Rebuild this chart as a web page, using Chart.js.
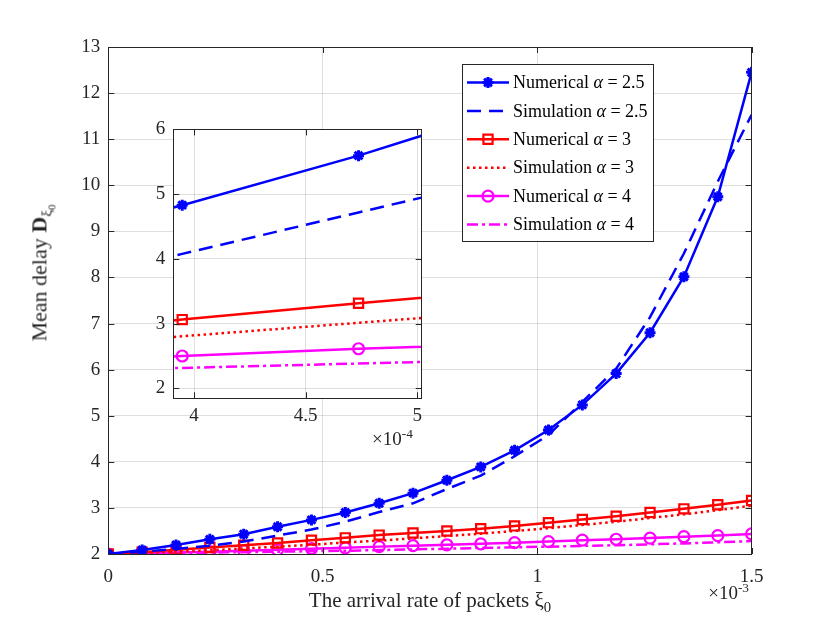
<!DOCTYPE html>
<html><head><meta charset="utf-8">
<script src="https://cdn.jsdelivr.net/npm/chart.js@4/dist/chart.umd.min.js"></script>
<style>
html,body{margin:0;padding:0;background:#fff;}
#wrap{position:relative;width:830px;height:623px;overflow:hidden;font-family:"Liberation Serif","Times New Roman",serif;color:#262626;}
#main{position:absolute;left:0;top:0;}
#inset{position:absolute;left:120px;top:110px;}
.lbl{position:absolute;white-space:nowrap;color:#262626;line-height:1;}
.lbl sub{font-size:70%;vertical-align:-0.35em;line-height:0;}
.lbl sup{font-size:70%;vertical-align:0.55em;line-height:0;}
#xtitle{font-size:21px;left:430px;top:590px;transform:translateX(-50%);}
#ytitle{font-size:22px;left:40px;top:273px;transform:translate(-50%,-50%) rotate(-90deg);}
#xexp{font-size:19px;right:81px;top:583px;}
#iexp{font-size:19px;left:372px;top:429px;}
</style></head><body>
<div id="wrap">
<canvas id="main" width="830" height="623"></canvas>
<canvas id="inset" width="330" height="350"></canvas>
<div class="lbl" id="xtitle">The arrival rate of packets ξ<sub>0</sub></div>
<div class="lbl" id="ytitle">Mean delay <b>D</b><sub>ξ<sub>0</sub></sub></div>
<div class="lbl" id="xexp">×10<sup>-3</sup></div>
<div class="lbl" id="iexp">×10<sup>-4</sup></div>
</div>
<script>
// ---- data (x in units of 1e-3) ----
const xVals   = [0, 0.0789, 0.1579, 0.2368, 0.3158, 0.3947, 0.4737, 0.5526, 0.6316, 0.7105, 0.7895, 0.8684, 0.9474, 1.0263, 1.1053, 1.1842, 1.2632, 1.3421, 1.4211, 1.5];
const numA25  = [2.0, 2.087, 2.195, 2.318, 2.43, 2.59, 2.74, 2.90, 3.10, 3.32, 3.60, 3.89, 4.25, 4.69, 5.235, 5.915, 6.80, 8.015, 9.75, 12.45];
const simA25  = [2.0, 2.05, 2.11, 2.18, 2.27, 2.40, 2.53, 2.70, 2.91, 3.10, 3.41, 3.70, 4.12, 4.58, 5.30, 6.02, 7.14, 8.52, 10.08, 11.53];
const numA3   = [2.0, 2.04, 2.09, 2.14, 2.19, 2.24, 2.30, 2.35, 2.41, 2.455, 2.50, 2.55, 2.61, 2.68, 2.75, 2.82, 2.90, 2.98, 3.07, 3.16];
const simA3   = [2.0, 2.02, 2.05, 2.08, 2.12, 2.16, 2.20, 2.25, 2.29, 2.34, 2.39, 2.44, 2.50, 2.56, 2.63, 2.70, 2.78, 2.86, 2.95, 3.05];
const numA4   = [2.0, 2.015, 2.035, 2.05, 2.07, 2.09, 2.115, 2.135, 2.16, 2.18, 2.20, 2.22, 2.245, 2.27, 2.30, 2.32, 2.345, 2.375, 2.40, 2.435];
const simA4   = [2.0, 2.01, 2.02, 2.03, 2.04, 2.05, 2.06, 2.07, 2.085, 2.10, 2.115, 2.13, 2.145, 2.16, 2.175, 2.19, 2.21, 2.23, 2.255, 2.28];
// inset data (x in units of 1e-4)
const insetX   = [3.158, 3.947, 4.737, 5.526];
const inNumA25 = [4.12, 4.83, 5.595, 6.45];
const inSimA25 = [3.44, 4.078, 4.718, 5.357];
const inNumA3  = [2.83, 3.063, 3.316, 3.55];
const inSimA3  = [2.597, 2.806, 3.014, 3.222];
const inNumA4  = [2.39, 2.501, 2.613, 2.70];
const inSimA4  = [2.25, 2.317, 2.385, 2.452];
// ticks and labels
const mainXTicks  = [0, 0.5, 1, 1.5];
const mainYTicks  = [2, 3, 4, 5, 6, 7, 8, 9, 10, 11, 12, 13];
const insetXTicks = [4, 4.5, 5];
const insetYTicks = [2, 3, 4, 5, 6];
const seriesKinds = ['Numerical', 'Simulation', 'Numerical', 'Simulation', 'Numerical', 'Simulation'];
const alphaVals   = ['2.5', '2.5', '3', '3', '4', '4'];

// ---- styles ----
const BLUE = '#0000ff', RED = '#ff0000', MAG = '#ff00ff';
const LW = 2.5;
const styles = [
  {color: BLUE, dash: [], point: 'star', r: 5.5},
  {color: BLUE, dash: [14, 8], point: false},
  {color: RED, dash: [], point: 'rect', r: 6.5},
  {color: RED, dash: [2.5, 3.5], point: false},
  {color: MAG, dash: [], point: 'circle', r: 5.5},
  {color: MAG, dash: [11, 4, 3, 4], point: false}
];
const AXC = '#262626';
const GRIDC = 'rgba(38,38,38,0.15)';
const FONT = {family: '"Liberation Serif", "Times New Roman", serif', size: 19};

function mkSets(xs, arrs) {
  return arrs.map((arr, i) => {
    const s = styles[i];
    return {
      label: seriesKinds[i] + ' α = ' + alphaVals[i],
      data: xs.map((x, j) => ({x: x, y: arr[j]})),
      borderColor: s.color, backgroundColor: 'rgba(0,0,0,0)',
      borderWidth: LW, borderDash: s.dash, tension: 0,
      pointStyle: s.point || 'circle', pointRadius: s.point ? s.r : 0,
      pointBorderColor: s.color, pointBackgroundColor: s.point === 'star' ? s.color : 'rgba(0,0,0,0)',
      pointBorderWidth: s.point === 'star' ? 3 : 2.2, pointHoverRadius: 0
    };
  });
}

function drawMarker(ctx, style, r, x, y, bw) {
  ctx.save();
  ctx.setLineDash([]);
  ctx.lineWidth = bw;
  ctx.beginPath();
  if (style === 'star') {
    for (let k = 0; k < 4; k++) {
      const a = k * Math.PI / 4;
      ctx.moveTo(x - r * Math.cos(a), y - r * Math.sin(a));
      ctx.lineTo(x + r * Math.cos(a), y + r * Math.sin(a));
    }
    ctx.stroke();
  } else if (style === 'rect') {
    const s = Math.SQRT1_2 * r;
    ctx.rect(x - s, y - s, 2 * s, 2 * s);
    ctx.stroke();
  } else if (style === 'circle') {
    ctx.arc(x, y, r, 0, Math.PI * 2);
    ctx.stroke();
  }
  ctx.restore();
}

function boxPlugin(extra) {
  return {
    id: 'boxp',
    beforeDraw(chart) {
      const {ctx, chartArea: a} = chart;
      ctx.save();
      ctx.fillStyle = '#fff';
      ctx.fillRect(a.left, a.top, a.right - a.left, a.bottom - a.top);
      ctx.restore();
    },
    afterDraw(chart) {
      const {ctx, chartArea: a, scales} = chart;
      const x = scales.x, y = scales.y;
      ctx.save();
      ctx.strokeStyle = AXC;
      ctx.lineWidth = 1;
      ctx.setLineDash([]);
      ctx.strokeRect(Math.round(a.left) + 0.5, Math.round(a.top) + 0.5, Math.round(a.right - a.left), Math.round(a.bottom - a.top));
      const tl = 6;
      ctx.beginPath();
      x.ticks.forEach(t => {
        const px = Math.round(x.getPixelForValue(t.value)) + 0.5;
        ctx.moveTo(px, a.bottom); ctx.lineTo(px, a.bottom - tl);
        ctx.moveTo(px, a.top); ctx.lineTo(px, a.top + tl);
      });
      y.ticks.forEach(t => {
        const py = Math.round(y.getPixelForValue(t.value)) + 0.5;
        ctx.moveTo(a.left, py); ctx.lineTo(a.left + tl, py);
        ctx.moveTo(a.right, py); ctx.lineTo(a.right - tl, py);
      });
      ctx.stroke();
      ctx.restore();
      if (extra) extra(chart);
    }
  };
}

function drawLegend(chart) {
  const ctx = chart.ctx;
  const L = {left: 462, top: 64, w: 191, h: 177};
  ctx.save();
  ctx.fillStyle = '#fff';
  ctx.fillRect(L.left, L.top, L.w, L.h);
  ctx.strokeStyle = AXC; ctx.lineWidth = 1;
  ctx.strokeRect(L.left + 0.5, L.top + 0.5, L.w, L.h);
  const fam = FONT.family;
  for (let i = 0; i < 6; i++) {
    const s = styles[i];
    const cy = L.top + 18.5 + i * 28.4;
    ctx.strokeStyle = s.color; ctx.lineWidth = LW; ctx.setLineDash(s.dash);
    ctx.beginPath(); ctx.moveTo(467, cy); ctx.lineTo(509, cy); ctx.stroke();
    ctx.setLineDash([]);
    if (s.point) {
      ctx.strokeStyle = s.color;
      drawMarker(ctx, s.point, s.r, 488, cy, s.point === 'star' ? 3 : 2.2);
    }
    ctx.fillStyle = '#000';
    ctx.textBaseline = 'middle';
    let tx = 513;
    ctx.font = '18px ' + fam;
    const t1 = seriesKinds[i] + ' ';
    ctx.fillText(t1, tx, cy + 1); tx += ctx.measureText(t1).width;
    ctx.font = 'italic 18px ' + fam;
    ctx.fillText('α', tx, cy + 1); tx += ctx.measureText('α').width;
    ctx.font = '18px ' + fam;
    ctx.fillText(' = ' + alphaVals[i], tx, cy + 1);
  }
  ctx.restore();
}

function scaleOpts(ticksArr, min, max, fitProp, fitVal, pad) {
  return {
    type: 'linear', min: min, max: max,
    afterBuildTicks: s => { s.ticks = ticksArr.map(v => ({value: v})); },
    afterFit: s => { s[fitProp] = fitVal; },
    ticks: {font: FONT, color: AXC, padding: pad, autoSkip: false, maxRotation: 0,
            callback: v => String(v)},
    grid: {color: GRIDC, lineWidth: 1, drawTicks: false},
    border: {display: false}
  };
}

new Chart(document.getElementById('main'), {
  type: 'line',
  data: {datasets: mkSets(xVals, [numA25, simA25, numA3, simA3, numA4, simA4])},
  options: {
    responsive: false, animation: false, devicePixelRatio: 1,
    layout: {padding: {left: 0, top: 47, right: 78.4, bottom: 0}},
    scales: {
      x: scaleOpts(mainXTicks, 0, 1.5, 'height', 69, 12),
      y: scaleOpts(mainYTicks, 2, 13, 'width', 108.3, 8)
    },
    plugins: {legend: {display: false}, tooltip: {enabled: false}}
  },
  plugins: [boxPlugin(drawLegend)]
});

new Chart(document.getElementById('inset'), {
  type: 'line',
  data: {datasets: mkSets(insetX, [inNumA25, inSimA25, inNumA3, inSimA3, inNumA4, inSimA4])},
  options: {
    responsive: false, animation: false, devicePixelRatio: 1,
    layout: {padding: {left: 0, top: 15.7, right: 28.3, bottom: 0}},
    scales: {
      x: scaleOpts(insetXTicks, 3.907, 5.02, 'height', 61.7, 6),
      y: scaleOpts(insetYTicks, 1.848, 6, 'width', 53.3, 8)
    },
    plugins: {legend: {display: false}, tooltip: {enabled: false}}
  },
  plugins: [boxPlugin(null)]
});
</script>
</body></html>
